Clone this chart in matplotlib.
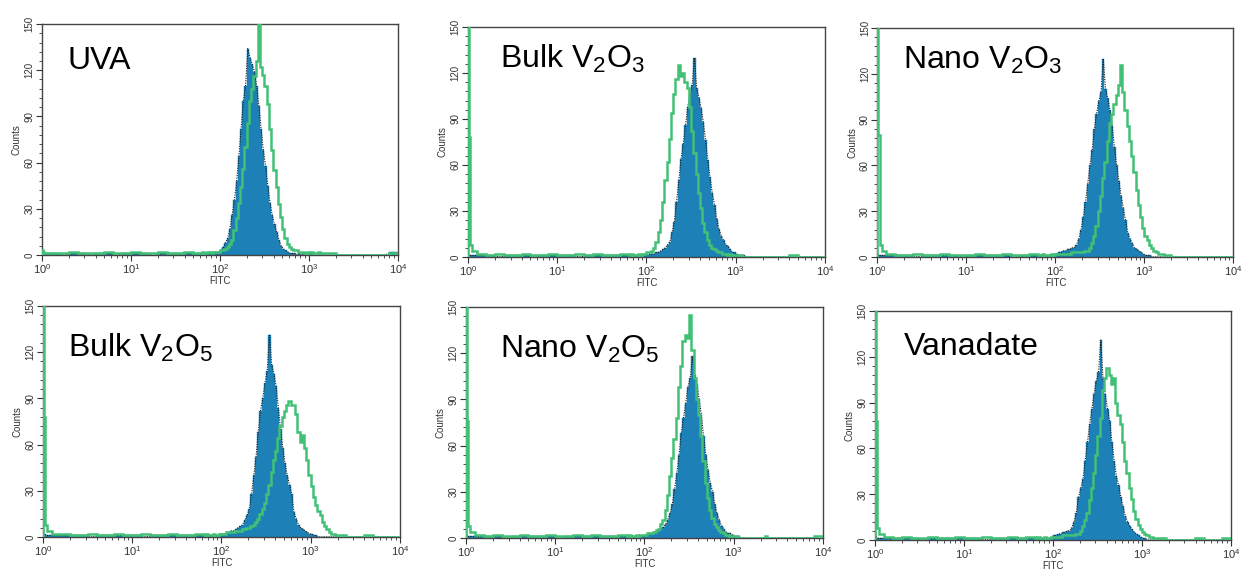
import numpy as np
import matplotlib
matplotlib.use("Agg")
import matplotlib.pyplot as plt
from matplotlib.ticker import MultipleLocator, LogLocator

plt.rcParams['font.family'] = ['Liberation Sans', 'DejaVu Sans']
plt.rcParams['mathtext.fontset'] = 'custom'
plt.rcParams['mathtext.rm'] = 'Liberation Sans'
plt.rcParams['mathtext.it'] = 'Liberation Sans:italic'
plt.rcParams['mathtext.bf'] = 'Liberation Sans:bold'

# ---- data -------------------------------------------------------------
# Bin edges in log10(FITC): coarse at low intensity, fine around the peaks
log_edges = np.concatenate([
    [0.0, 0.01, 0.025, 0.05],
    np.round(np.linspace(0.1, 1.8, 18), 3),
    np.round(np.linspace(1.8, 3.5, 69)[1:], 4),
    np.round(np.linspace(3.5, 4.0, 6)[1:], 3),
])

panel_labels = ["UVA", r"Bulk V$_\mathregular{2}$O$_\mathregular{3}$",
                r"Nano V$_\mathregular{2}$O$_\mathregular{3}$",
                r"Bulk V$_\mathregular{2}$O$_\mathregular{5}$",
                r"Nano V$_\mathregular{2}$O$_\mathregular{5}$", "Vanadate"]

# Control (blue filled) and treated (green line) counts per bin
uva_blue = ([2,1,1,1, 1,0,1,1,0,1,1,0,1,1,1,0,1,1,1,1,1] +
            [1,1,1,2,1,2,2,2, 3,5,8,11,17,26,36,48, 64,82,100,110,134,128,124,119,
             110,97,82,68,58,45,34,26, 20,15,10,6,4,3,2,1, 1,1,0,1,0,1,0,0,
             1,0,0,0,0,0,0,0, 0,0,0,0,0,0,0,0, 0,0,0,0] +
            [0,0,0,0,2])
uva_green = ([3,2,1,1, 1,1,2,1,1,1,2,1,1,2,1,1,2,1,1,2,1] +
             [2,1,2,2,1,2,2,2, 3,3,4,5,7,10,16,24, 34,44,56,70,86,100,108,116,
              126,155,122,117,110,98,82,68, 55,44,33,25,17,11,7,5, 4,3,3,2,2,2,1,2,
              1,2,1,1,2,1,1,1, 1,1,1,1,0,0,0,0, 0,0,0,0] +
             [0,0,0,0,1])

bulk_v2o3_blue = ([2,1,1,1, 1,1,0,1,1,1,0,1,1,1,1,0,1,1,1,1,1] +
                  [1,1,1,1,1,1,1,2, 1,2,2,2,3,3,4,5, 6,8,10,16,23,36,50,64,
                   74,86,98,106,112,130,110,104, 97,88,76,63,52,42,34,25, 18,14,11,8,7,5,3,3,
                   2,1,1,1,0,0,0,0, 0,0,0,0,0,0,0,0, 0,0,0,0] +
                  [0,0,0,0,0])
bulk_v2o3_green = ([400,78,8,4, 2,1,2,1,1,2,1,1,2,1,1,2,1,2,1,1,2] +
                   [1,2,1,1,2,1,2,2, 3,3,4,6,10,16,24,36, 50,62,77,94,106,116,125,118,
                    120,114,110,98,82,68,54,42, 32,22,16,11,8,6,5,4, 3,3,2,2,1,2,1,1,
                    1,1,1,0,0,0,0,0, 0,0,0,0,0,0,0,0, 0,0,0,0] +
                   [0,1,0,0,0])

nano_v2o3_blue = ([2,1,1,1, 1,1,1,0,1,1,1,1,0,1,1,1,1,1,0,1,1] +
                  [1,1,1,1,1,1,1,1, 2,3,3,4,4,5,5,6, 6,8,12,18,26,36,48,60,
                   70,84,94,102,108,130,110,104, 96,86,72,60,50,40,32,24, 16,12,9,6,5,4,3,2,
                   1,1,1,0,0,0,0,0, 0,0,0,0,0,0,0,0, 0,0,0,0] +
                  [0,0,0,0,0])
nano_v2o3_green = ([400,80,8,4, 2,1,1,2,1,1,2,1,1,1,2,1,1,2,1,1,2] +
                   [1,1,2,1,1,1,2,1, 2,2,2,2,2,2,2,3, 3,3,3,3,3,4,4,6,
                    9,14,20,30,40,52,62,76, 88,94,100,106,113,126,108,96, 86,76,66,56,44,34,26,19,
                    14,11,8,6,4,3,2,2, 2,1,1,1,0,0,0,0, 0,0,0,0] +
                   [0,0,0,0,0])

bulk_v2o5_blue = ([3,2,1,1, 1,1,1,1,0,1,1,1,1,1,0,1,1,1,1,1,1] +
                  [1,1,1,1,1,1,1,2, 2,2,3,3,4,4,5,6, 7,8,11,14,18,28,40,52,
                   68,82,90,100,108,131,112,106, 98,84,70,58,48,40,34,28, 16,12,8,6,5,4,3,2,
                   2,1,1,0,0,0,0,0, 0,0,0,0,0,0,0,0, 0,0,0,0] +
                  [0,0,0,0,0])
bulk_v2o5_green = ([400,78,8,4, 2,2,1,1,2,1,1,2,1,1,2,1,1,2,1,1,2] +
                   [1,2,1,1,2,1,1,2, 2,2,3,3,3,3,4,4, 4,5,5,6,6,7,8,10,
                    12,15,18,22,28,34,42,50, 56,64,72,78,82,86,88,86, 86,80,68,62,66,58,50,40,
                    33,26,21,17,14,10,7,5, 3,2,2,1,1,1,0,1, 0,0,0,0] +
                   [0,1,0,0,0])

nano_v2o5_blue = ([2,1,1,1, 1,1,1,0,1,1,1,1,1,0,1,1,1,1,1,1,1] +
                  [1,1,1,1,1,1,1,1, 2,2,3,3,4,4,5,6, 7,9,12,16,22,32,42,54,
                   68,78,88,98,104,118,106,100, 90,80,66,54,44,36,30,22, 16,12,8,6,4,3,3,2,
                   1,1,1,0,0,0,0,0, 0,0,0,0,0,0,0,0, 0,0,0,0] +
                  [0,0,0,0,0])
nano_v2o5_green = ([400,76,8,4, 2,1,2,1,1,2,1,1,2,1,1,2,1,2,1,1,2] +
                   [1,2,1,1,2,1,2,2, 2,3,3,3,4,5,6,9, 12,18,28,40,52,64,78,98,
                    112,128,132,130,145,122,104,90, 80,66,50,36,26,18,13,9, 7,5,4,3,2,2,1,1,
                    1,1,0,0,0,0,0,0, 0,0,0,0,0,0,1,0, 0,0,0,0] +
                   [0,0,0,0,1])

vanadate_blue = ([4,2,1,1, 1,1,1,1,0,1,1,1,1,1,1,0,1,1,1,1,1] +
                 [1,1,1,1,1,1,1,2, 3,3,4,4,5,5,6,6, 8,12,18,28,34,40,52,64,
                  76,86,96,104,110,131,106,96, 86,78,64,52,42,36,28,22, 16,12,9,7,5,4,3,2,
                  1,1,0,0,0,0,0,0, 0,0,0,0,0,0,0,0, 0,0,0,0] +
                 [0,0,0,0,0])
vanadate_green = ([400,78,8,4, 2,1,2,1,1,2,1,1,2,1,1,2,1,1,2,1,2] +
                  [1,2,1,1,2,1,1,2, 2,2,2,2,3,3,3,3, 3,3,4,4,6,9,13,18,
                   26,34,44,56,68,80,98,106, 113,108,102,106,90,82,76,64, 52,44,34,27,19,14,10,7,
                   5,4,3,2,2,1,1,1, 1,0,1,0,0,0,0,0, 0,0,0,0] +
                  [0,1,0,0,1])

blue_series = [uva_blue, bulk_v2o3_blue, nano_v2o3_blue,
               bulk_v2o5_blue, nano_v2o5_blue, vanadate_blue]
green_series = [uva_green, bulk_v2o3_green, nano_v2o3_green,
                bulk_v2o5_green, nano_v2o5_green, vanadate_green]

y_ticks = [0, 30, 60, 90, 120, 150]

# ---- layout / style ---------------------------------------------------
BLUE = '#1d80b6'
GREEN = '#42c076'
positions = [
    (0.0338, 0.5542, 0.2866, 0.4038),
    (0.3768, 0.5507, 0.2874, 0.4021),
    (0.7065, 0.5507, 0.2866, 0.4003),
    (0.0346, 0.0612, 0.2874, 0.4038),
    (0.3752, 0.0594, 0.2874, 0.4038),
    (0.7045, 0.0560, 0.2866, 0.4000),
]
label_xy = [(0.073, 0.805), (0.09, 0.82), (0.073, 0.82),
            (0.07, 0.78), (0.095, 0.78), (0.08, 0.81)]

fig = plt.figure(figsize=(12.42, 5.72), dpi=100)
edges = 10 ** log_edges
centers = np.sqrt(edges[:-1] * edges[1:])

for i in range(6):
    b = np.array(blue_series[i], dtype=float)
    g = np.array(green_series[i], dtype=float)
    assert len(b) == len(edges) - 1, (i, 'blue', len(b))
    assert len(g) == len(edges) - 1, (i, 'green', len(g))
    ax = fig.add_axes(positions[i])
    ax.stairs(b, edges, fill=True, facecolor=BLUE, edgecolor=BLUE, lw=0.3, zorder=2)
    ax.plot(centers, b, color='#1a1a1a', lw=0.8, ls=(0, (1, 1.2)), zorder=3)
    ax.stairs(g, edges, color=GREEN, lw=1.8, zorder=4)
    ax.set_xscale('log')
    ax.set_xlim(1, 1e4)
    ax.set_ylim(0, 150)
    ax.set_yticks(y_ticks)
    ax.yaxis.set_minor_locator(MultipleLocator(6))
    ax.xaxis.set_major_locator(LogLocator(base=10, numticks=10))
    ax.xaxis.set_minor_locator(LogLocator(base=10, subs=np.arange(2, 10), numticks=50))
    ax.tick_params(axis='both', which='major', direction='out', length=4, width=0.8,
                   color='#333333', labelcolor='#333333')
    ax.tick_params(axis='both', which='minor', direction='out', length=2.2, width=0.6,
                   color='#333333')
    ax.tick_params(axis='x', labelsize=8, pad=1.5)
    ax.tick_params(axis='y', labelsize=7, pad=1.5)
    for lbl in ax.get_yticklabels():
        lbl.set_rotation(90)
        lbl.set_va('center')
    for sp in ax.spines.values():
        sp.set_color('#444444')
        sp.set_linewidth(1.0)
    ax.set_xlabel('FITC', fontsize=7, color='#333333', labelpad=-0.5)
    ax.set_ylabel('Counts', fontsize=7, color='#333333', labelpad=2)
    ax.text(label_xy[i][0], label_xy[i][1], panel_labels[i], transform=ax.transAxes,
            fontsize=23, color='black', va='baseline', ha='left', zorder=6)

fig.savefig('out.png', dpi=100)
